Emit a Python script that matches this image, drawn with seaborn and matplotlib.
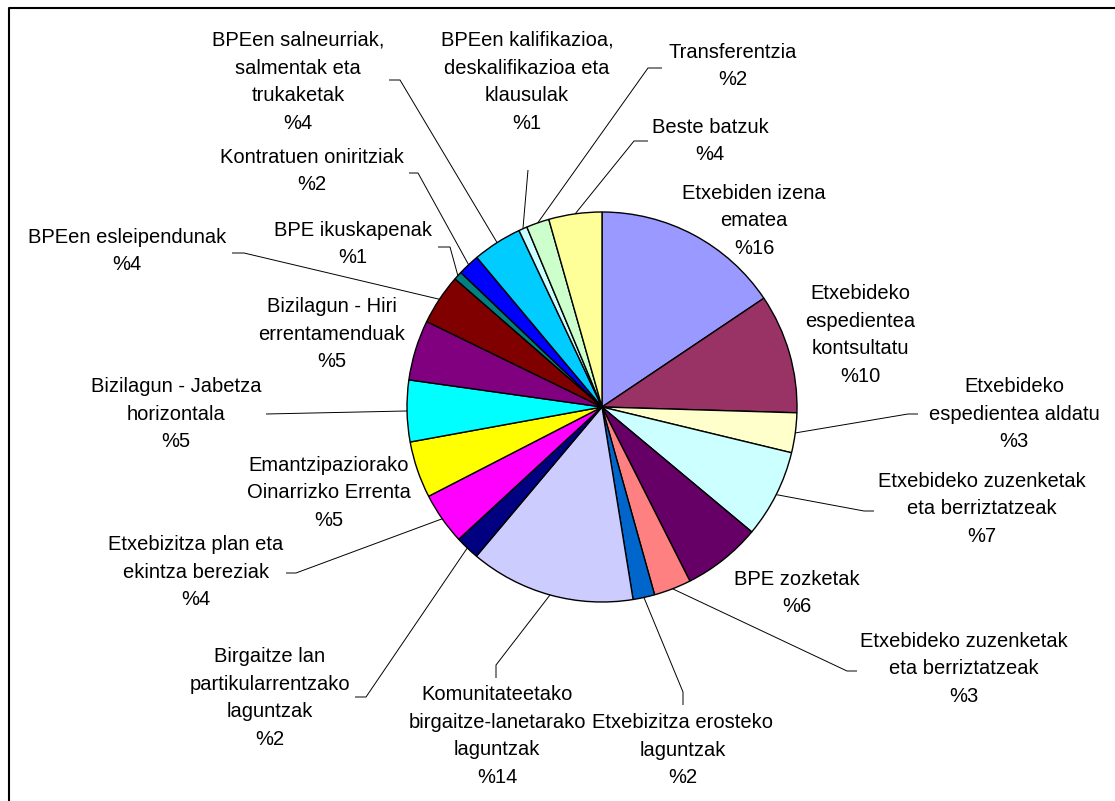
import matplotlib
matplotlib.use("Agg")
import matplotlib.pyplot as plt
import seaborn as sns
import numpy as np

# Datuak (zatiak erlojuaren noranzkoan, goitik hasita)
categories = [
    "Etxebiden izena\nematea",
    "Etxebideko\nespedientea\nkontsultatu",
    "Etxebideko\nespedientea aldatu",
    "Etxebideko zuzenketak\neta berriztatzeak",
    "BPE zozketak",
    "Etxebideko zuzenketak\neta berriztatzeak",
    "Etxebizitza erosteko\nlaguntzak",
    "Komunitateetako\nbirgaitze-lanetarako\nlaguntzak",
    "Birgaitze lan\npartikularrentzako\nlaguntzak",
    "Etxebizitza plan eta\nekintza bereziak",
    "Emantzipaziorako\nOinarrizko Errenta",
    "Bizilagun - Jabetza\nhorizontala",
    "Bizilagun - Hiri\nerrentamenduak",
    "BPEen esleipendunak",
    "BPE ikuskapenak",
    "Kontratuen oniritziak",
    "BPEen salneurriak,\nsalmentak eta\ntrukaketak",
    "BPEen kalifikazioa,\ndeskalifikazioa eta\nklausulak",
    "Transferentzia",
    "Beste batzuk",
]
values = [15.6, 9.9, 3.3, 7.3, 6.5, 3.1, 1.8, 13.7, 2.0, 4.3,
          4.7, 5.1, 5.0, 4.2, 0.7, 1.8, 4.1, 0.7, 1.9, 4.4]
pct_labels = ["%16", "%10", "%3", "%7", "%6", "%3", "%2", "%14", "%2", "%4",
              "%5", "%5", "%5", "%4", "%1", "%2", "%4", "%1", "%2", "%4"]
colors = ["#9999FF", "#993366", "#FFFFCC", "#CCFFFF", "#660066", "#FF8080",
          "#0066CC", "#CCCCFF", "#000080", "#FF00FF", "#FFFF00", "#00FFFF",
          "#800080", "#800000", "#008080", "#0000FF", "#00CCFF", "#CCFFFF",
          "#CCFFCC", "#FFFF99"]

# Etiketen kokapena (pixeletan) eta gida-lerroen puntuak
label_pos = [(754, 221), (860, 335), (1014, 414), (982, 509), (797, 593),
             (964, 669), (683, 750), (497, 736), (270, 698), (196, 572),
             (329, 493), (176, 414), (332, 334), (127, 251), (353, 244),
             (312, 171), (298, 82), (527, 82), (733, 66), (710, 141)]
leaders = [None, None, [(918, 414), (908, 414)], [(874, 511), (864, 511)], None,
           [(857, 671), (847, 671)], [(683, 705), (683, 692)],
           [(496, 678), (496, 665)], [(355, 697), (366, 697)],
           [(286, 573), (296, 573)], None, [(266, 414)], None,
           [(232, 253), (244, 253)], [(438, 247), (450, 247)],
           [(409, 173), (418, 173)], [(389, 80), (400, 80)], [(528, 170)],
           [(662, 68), (648, 68)], [(648, 141), (634, 141)]]

sns.set_theme(style="white")
plt.rcParams["font.family"] = ["Liberation Sans", "DejaVu Sans"]

W, H = 1115, 801
fig = plt.figure(figsize=(W / 100, H / 100), dpi=100)
ax = fig.add_axes([0, 0, 1, 1])

cx, cy, r = 602, 407, 195
wedges, _ = ax.pie(values, colors=sns.color_palette(colors), startangle=-90,
                   counterclock=True, center=(cx, cy), radius=r,
                   wedgeprops=dict(edgecolor="black", linewidth=1.0))
ax.set_xlim(0, W)
ax.set_ylim(H, 0)
ax.set_aspect("equal")
ax.axis("off")

for i, w in enumerate(wedges):
    x, y = label_pos[i]
    ax.text(x, y, categories[i] + "\n" + pct_labels[i], ha="center", va="center",
            fontsize=14.5, linespacing=1.58, color="black")
    if leaders[i] is not None:
        mid = np.deg2rad((w.theta1 + w.theta2) / 2)
        px, py = cx + r * np.cos(mid), cy + r * np.sin(mid)
        pts = leaders[i] + [(px, py)]
        ax.plot([p[0] for p in pts], [p[1] for p in pts], color="black",
                linewidth=0.7, solid_capstyle="butt")

# Marko zatia (goian eta ezkerrean)
ax.plot([9, 9, W], [H, 8, 8], color="black", linewidth=1.5)

fig.savefig("out.png", dpi=100)
